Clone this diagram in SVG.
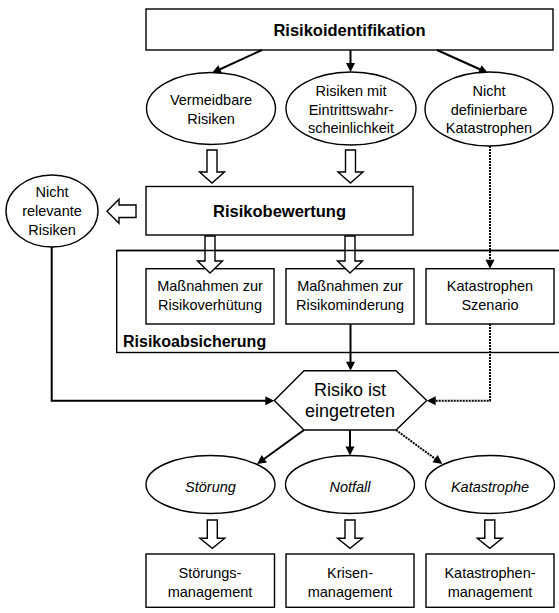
<svg xmlns="http://www.w3.org/2000/svg" width="559" height="613" viewBox="0 0 559 613">
<defs>
<style>
.box{fill:#fff;stroke:#000;stroke-width:1.4}
.frame{fill:none;stroke:#000;stroke-width:1.4}
.hol{fill:#fff;stroke:#000;stroke-width:1.4;stroke-linejoin:miter}
.con{fill:none;stroke:#000;stroke-width:2}
.dot{fill:none;stroke:#000;stroke-width:2;stroke-dasharray:2 1}
text{font-family:"Liberation Sans",Arial,sans-serif;fill:#000}
.t{font-size:14.5px;text-anchor:middle}
.ti{font-size:14.5px;text-anchor:middle;font-style:italic}
.tb{font-size:16.5px;font-weight:bold;text-anchor:middle}
.th{font-size:18px;text-anchor:middle}
</style>
<marker id="ah" markerUnits="userSpaceOnUse" markerWidth="10" markerHeight="10" refX="3" refY="4.5" orient="auto" overflow="visible">
<path d="M0,0 L9,4.5 L0,9 Z" fill="#000"/>
</marker>
</defs>
<rect x="0" y="0" width="559" height="613" fill="#fff"/>

<g id="risikoabsicherung">
<rect class="frame" x="116.7" y="250.5" width="460" height="102"/>
<text x="123" y="346.5" style="font-size:16px;font-weight:bold">Risikoabsicherung</text>
</g>

<g id="risikoidentifikation">
<rect class="box" x="146" y="9" width="407" height="41"/>
<text class="tb" x="349.5" y="35.5">Risikoidentifikation</text>
</g>

<g id="vermeidbare">
<ellipse class="box" cx="211" cy="108.5" rx="64.5" ry="36"/>
<text class="t" x="211" y="105">Vermeidbare</text>
<text class="t" x="211" y="124">Risiken</text>
</g>

<g id="eintritt">
<ellipse class="box" cx="351" cy="108.5" rx="65" ry="36.5"/>
<text class="t" x="351" y="96">Risiken mit</text>
<text class="t" x="351" y="114.5">Eintrittswahr-</text>
<text class="t" x="351" y="133">scheinlichkeit</text>
</g>

<g id="nichtdefinierbar">
<ellipse class="box" cx="489" cy="109" rx="64" ry="37"/>
<text class="t" x="489" y="96">Nicht</text>
<text class="t" x="489" y="114.5">definierbare</text>
<text class="t" x="489" y="133">Katastrophen</text>
</g>

<g id="risikobewertung">
<rect class="box" x="146" y="186.5" width="267" height="48.5"/>
<text class="tb" x="279.5" y="217">Risikobewertung</text>
</g>

<g id="nichtrelevant">
<ellipse class="box" cx="52" cy="211" rx="46" ry="36"/>
<text class="t" x="52" y="197.3">Nicht</text>
<text class="t" x="52" y="216">relevante</text>
<text class="t" x="52" y="235">Risiken</text>
</g>

<g id="verhuetung">
<rect class="box" x="146" y="268.7" width="128" height="55.3"/>
<text class="t" x="210" y="290.7">Maßnahmen zur</text>
<text class="t" x="210" y="310">Risikoverhütung</text>
</g>

<g id="minderung">
<rect class="box" x="286" y="268.7" width="128" height="55.3"/>
<text class="t" x="350" y="290.7">Maßnahmen zur</text>
<text class="t" x="350" y="310">Risikominderung</text>
</g>

<g id="szenario">
<rect class="box" x="426" y="268.7" width="128" height="55.3"/>
<text class="t" x="490" y="290.7">Katastrophen</text>
<text class="t" x="490" y="310">Szenario</text>
</g>

<g id="eingetreten">
<polygon class="box" points="304,370.7 396,370.7 426.7,400.5 396,430 304,430 274.3,400.5"/>
<text class="th" x="350" y="395.7">Risiko ist</text>
<text class="th" x="350" y="417.3">eingetreten</text>
</g>

<g id="stoerung">
<ellipse class="box" cx="210.5" cy="484.5" rx="64.5" ry="29"/>
<text class="ti" x="210.5" y="491.5">Störung</text>
</g>

<g id="notfall">
<ellipse class="box" cx="350" cy="484.5" rx="64.5" ry="29"/>
<text class="ti" x="350" y="491.5">Notfall</text>
</g>

<g id="katastrophe">
<ellipse class="box" cx="490" cy="484.5" rx="64.5" ry="29"/>
<text class="ti" x="490" y="491.5">Katastrophe</text>
</g>

<g id="stoerungsmanagement">
<rect class="box" x="146" y="554" width="128.5" height="53.3"/>
<text class="t" x="210" y="578.3">Störungs-</text>
<text class="t" x="210" y="596.7">management</text>
</g>

<g id="krisenmanagement">
<rect class="box" x="286" y="554" width="128" height="53.3"/>
<text class="t" x="350" y="578.3">Krisen-</text>
<text class="t" x="350" y="596.7">management</text>
</g>

<g id="katastrophenmanagement">
<rect class="box" x="426" y="554" width="128" height="53.3"/>
<text class="t" x="490" y="578.3">Katastrophen-</text>
<text class="t" x="490" y="596.7">management</text>
</g>

<g id="connectors">
<path class="con" d="M262,50 L217.4,70.5" marker-end="url(#ah)"/>
<path class="con" d="M350.5,50 L350.5,66" marker-end="url(#ah)"/>
<path class="con" d="M437,50 L482.5,70.5" marker-end="url(#ah)"/>
<path class="dot" d="M490,146 L490,262.7" marker-end="url(#ah)"/>
<path class="con" d="M350.5,324 L350.5,364.7" marker-end="url(#ah)"/>
<path class="con" d="M51.7,247 L51.7,400.7 L268.3,400.7" marker-end="url(#ah)"/>
<path class="dot" d="M490,324 L490,400.7 L432.7,400.7" marker-end="url(#ah)"/>
<path class="con" d="M304,430 L261.9,460.5" marker-end="url(#ah)"/>
<path class="con" d="M350,430 L350,449.5" marker-end="url(#ah)"/>
<path class="dot" d="M396,430 L437.5,460.5" marker-end="url(#ah)"/>
<path class="hol" d="M207,150 H217 V172 H224.5 L212,183 L199.5,172 H207 Z"/>
<path class="hol" d="M345.5,150 H355.5 V172 H363 L350.5,183 L338,172 H345.5 Z"/>
<path class="hol" d="M136,205 V217.5 H119 V223.3 L107,211.3 L119,199.3 V205 Z"/>
<path class="hol" d="M205,236 H215 V261 H222.5 L210,273 L197.5,261 H205 Z"/>
<path class="hol" d="M345,236 H355 V261 H362.5 L350,273 L337.5,261 H345 Z"/>
<path class="hol" d="M207.3,520 H217.3 V538.3 H224.8 L212.3,548.3 L199.8,538.3 H207.3 Z"/>
<path class="hol" d="M345,520 H355 V538.3 H362.5 L350,548.3 L337.5,538.3 H345 Z"/>
<path class="hol" d="M484.8,520 H494.8 V538.3 H502.3 L489.8,548.3 L477.3,538.3 H484.8 Z"/>
<line class="frame" x1="116.7" y1="250.5" x2="559" y2="250.5"/>
</g>
</svg>
